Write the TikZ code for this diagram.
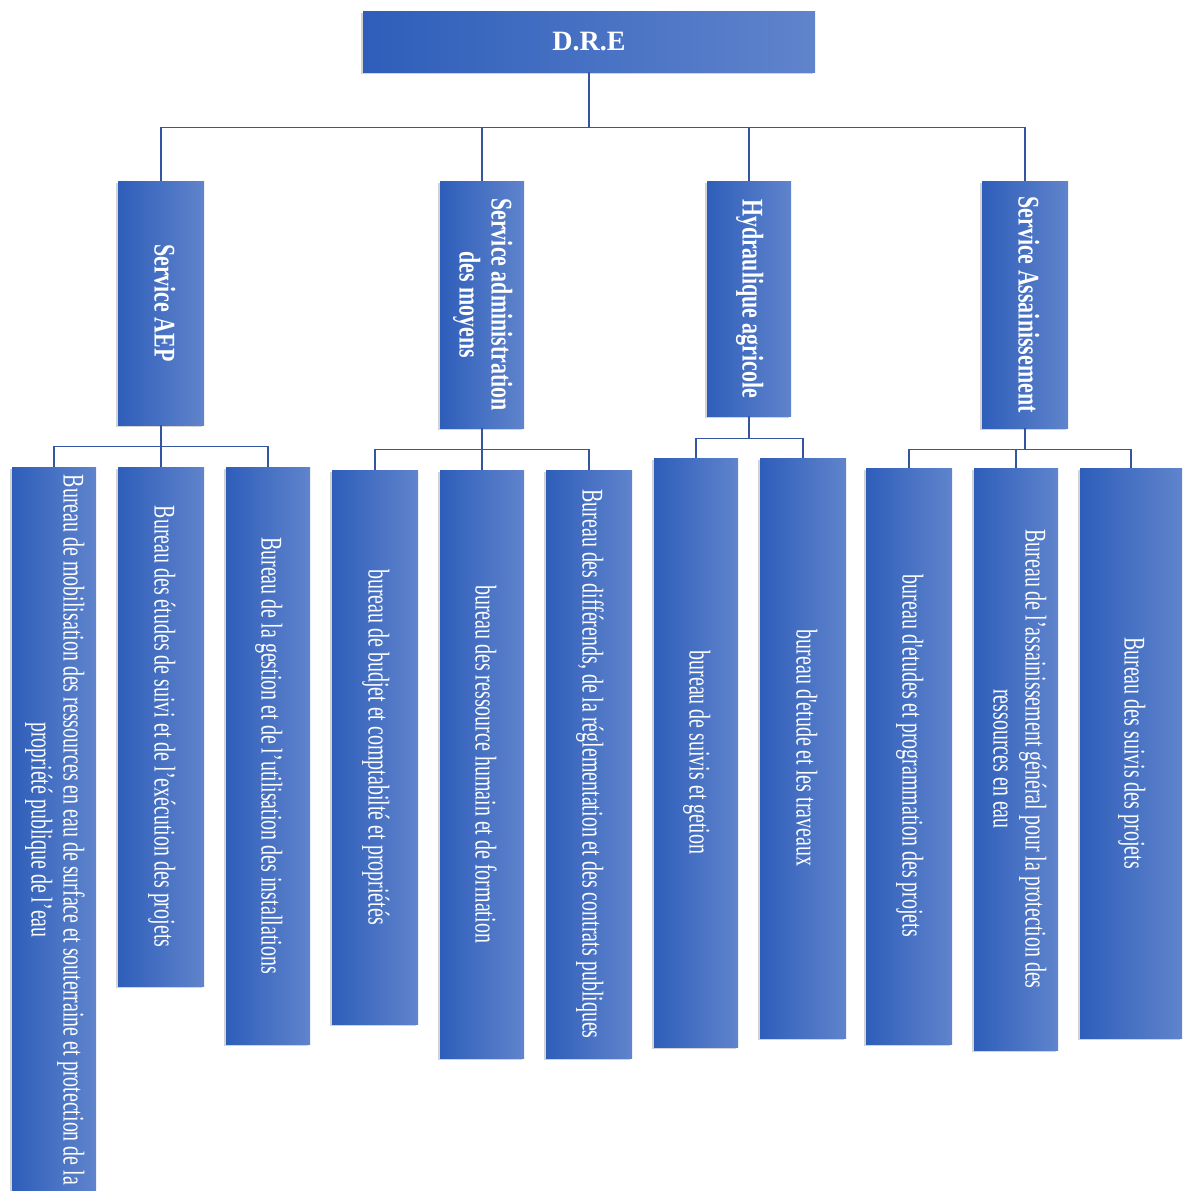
\documentclass[tikz,border=0pt]{standalone}
\usepackage{fontspec}
\setmainfont{Liberation Serif}
\newfontfamily\svcfont[FakeStretch=0.73]{Liberation Serif}
\newfontfamily\burfont[FakeStretch=0.665]{Liberation Serif}
\usetikzlibrary{shadows}
\definecolor{boxleft}{RGB}{46,94,186}
\definecolor{boxright}{RGB}{96,132,204}
\definecolor{linkblue}{RGB}{52,86,160}
\newcommand{\vlabel}[1]{\rotatebox{-90}{\makebox[0pt]{\begin{tabular}{@{}c@{}}#1\end{tabular}}}}

\begin{document}
\begin{tikzpicture}[x=1pt,y=-1pt,
  orgbox/.style={left color=boxleft, right color=boxright, text=white, inner sep=0pt,
    drop shadow={shadow xshift=-2pt, shadow yshift=-2pt, opacity=.35}},
  topbox/.style={orgbox, minimum width=452pt, minimum height=61pt,
    font=\fontsize{28}{32}\selectfont\bfseries},
  svcbox/.style={orgbox, font=\svcfont\fontsize{30}{32}\selectfont\bfseries},
  burbox/.style={orgbox, font=\burfont\fontsize{30}{32}\selectfont},
  link/.style={linkblue, line width=1.3pt}]
\useasboundingbox (0,0) rectangle (1184,1191);

% direction
\node[topbox] (dre) at (589,41.5) {D.R.E};

% services
\node[svcbox, minimum width=86pt, minimum height=244pt] (aep) at (161,303) {\vlabel{Service AEP}};
\node[svcbox, minimum width=84pt, minimum height=247pt] (adm) at (482,304.5) {\vlabel{Service administration\\des moyens}};
\node[svcbox, minimum width=84pt, minimum height=235pt] (hyd) at (749,298.5) {\vlabel{Hydraulique agricole}};
\node[svcbox, minimum width=86pt, minimum height=247pt] (ass) at (1025,304.5) {\vlabel{Service Assainissement}};

% bureaux AEP
\node[burbox, minimum width=84pt, minimum height=726pt] (b11) at (54,830) {\vlabel{Bureau de mobilisation des ressources en eau de surface et souterraine et protection de la\\propriété publique de l’eau}};
\node[burbox, minimum width=86pt, minimum height=519pt] (b12) at (161,726.5) {\vlabel{Bureau des études de suivi et de l’exécution des projets}};
\node[burbox, minimum width=84pt, minimum height=577pt] (b13) at (268,755.5) {\vlabel{Bureau de la gestion et de l’utilisation des installations}};

% bureaux administration
\node[burbox, minimum width=86pt, minimum height=554pt] (b21) at (375,747) {\vlabel{bureau de budjet et comptabilté et propriétés}};
\node[burbox, minimum width=84pt, minimum height=588pt] (b22) at (482,764) {\vlabel{bureau des ressource humain et de formation}};
\node[burbox, minimum width=86pt, minimum height=588pt] (b23) at (589,764) {\vlabel{Bureau des différends, de la réglementation et des contrats publiques}};

% bureaux hydraulique
\node[burbox, minimum width=84pt, minimum height=589pt] (b31) at (696,752.5) {\vlabel{bureau de suivis et getion}};
\node[burbox, minimum width=86pt, minimum height=580pt] (b32) at (803,748) {\vlabel{bureau d'etude et les traveaux}};

% bureaux assainissement
\node[burbox, minimum width=86pt, minimum height=576pt] (b41) at (909,756) {\vlabel{bureau d'etudes et programmation des projets}};
\node[burbox, minimum width=84pt, minimum height=582pt] (b42) at (1016,759) {\vlabel{Bureau de l’assainissement général pour la protection des\\ressources en eau}};
\node[burbox, minimum width=102pt, minimum height=570pt] (b43) at (1131,753) {\vlabel{Bureau des suivis des projets}};

% links
\foreach \s in {aep,adm,hyd,ass}
  \draw[link] (dre.south) -- ++(0,55) -| (\s.north);
\foreach \b in {b11,b12,b13}
  \draw[link] (aep.south) -- ++(0,21) -| (\b.north);
\foreach \b in {b21,b22,b23}
  \draw[link] (adm.south) -- ++(0,21) -| (\b.north);
\foreach \b in {b31,b32}
  \draw[link] (hyd.south) -- ++(0,22) -| (\b.north);
\foreach \b in {b41,b42,b43}
  \draw[link] (ass.south) -- ++(0,21) -| (\b.north);
\end{tikzpicture}
\end{document}
